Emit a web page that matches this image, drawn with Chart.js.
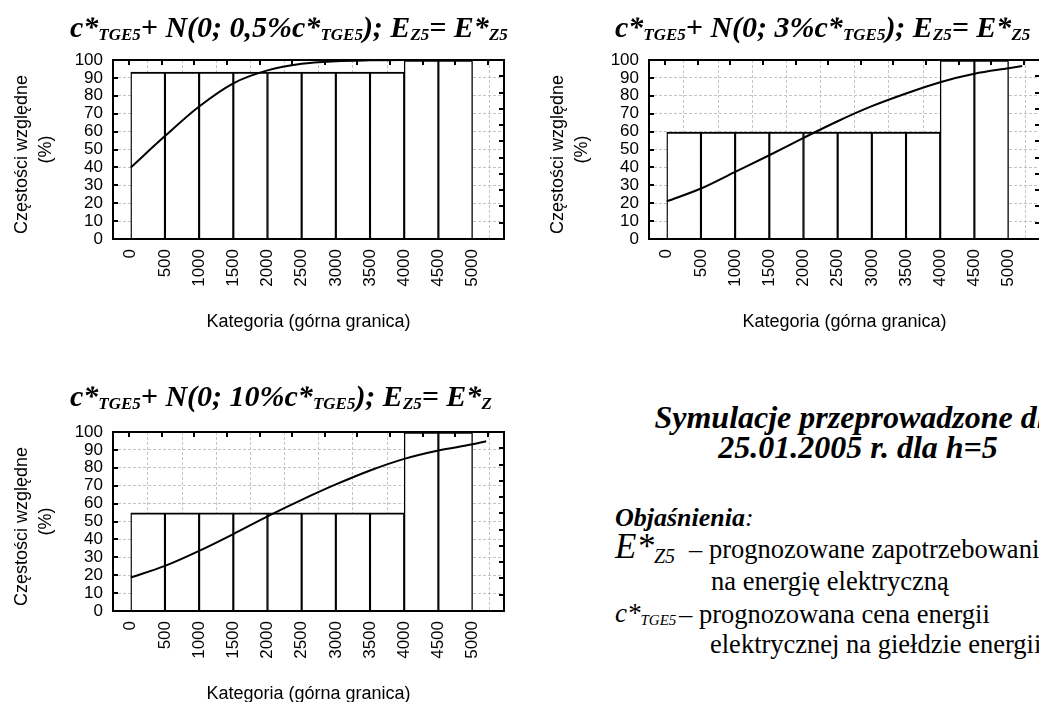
<!DOCTYPE html>
<html>
<head>
<meta charset="utf-8">
<script src="https://cdn.jsdelivr.net/npm/chart.js@4.4.1/dist/chart.umd.min.js"></script>
<style>
  html, body { margin:0; padding:0; width:1039px; height:702px; overflow:hidden; background:#fff; }
  .cv { position:absolute; }
  .t { position:absolute; white-space:nowrap; line-height:1; font-family:"Liberation Serif","Times New Roman",serif; color:#000; }
  .bi { font-weight:bold; font-style:italic; }
  .it { font-style:italic; }
  .s { position:relative; }
  .ts { position:relative; font-size:17px; top:3px; }
</style>
</head>
<body>
<canvas id="c1" class="cv" width="520" height="345" style="left:0px;top:0px"></canvas>
<canvas id="c2" class="cv" width="520" height="345" style="left:536px;top:0px"></canvas>
<canvas id="c3" class="cv" width="520" height="345" style="left:0px;top:372px"></canvas>

<div class="t bi" style="left:70px;top:12px;font-size:30px">c*<span class="ts">TGE5</span>+ N(0; 0,5%c*<span class="ts">TGE5</span>); E<span class="ts">Z5</span>= E*<span class="ts">Z5</span></div>
<div class="t bi" style="left:615px;top:12px;font-size:30px">c*<span class="ts">TGE5</span>+ N(0; 3%c*<span class="ts">TGE5</span>); E<span class="ts">Z5</span>= E*<span class="ts">Z5</span></div>
<div class="t bi" style="left:70px;top:381px;font-size:30px">c*<span class="ts">TGE5</span>+ N(0; 10%c*<span class="ts">TGE5</span>); E<span class="ts">Z5</span>= E*<span class="ts">Z</span></div>

<div class="t bi" style="left:858px;top:401px;font-size:32px;transform:translateX(-50%)">Symulacje przeprowadzone dla</div>
<div class="t bi" style="left:858px;top:431px;font-size:32px;transform:translateX(-50%)">25.01.2005 r. dla h=5</div>

<div class="t bi" style="left:615px;top:505px;font-size:26px">Objaśnienia<span style="font-weight:normal">:</span></div>
<div class="t it" style="left:615px;top:529px;font-size:35px">E*<span class="s" style="font-size:20px;top:5px">Z5</span></div>
<div class="t" style="left:689px;top:536px;font-size:26.5px">– prognozowane zapotrzebowanie</div>
<div class="t" style="left:711px;top:568px;font-size:26.5px">na energię elektryczną</div>
<div class="t it" style="left:615px;top:600px;font-size:27px">c*<span class="s" style="font-size:15px;top:3px">TGE5</span></div>
<div class="t" style="left:679px;top:601px;font-size:26.5px">– prognozowana cena energii</div>
<div class="t" style="left:710px;top:631px;font-size:26.5px">elektrycznej na giełdzie energii</div>

<script>
// ---- data ----
const binCenters = [250, 750, 1250, 1750, 2250, 2750, 3250, 3750, 4250, 4750];
const xTickValues = [0, 500, 1000, 1500, 2000, 2500, 3000, 3500, 4000, 4500, 5000];
const xTickLabels = ['0', '500', '1000', '1500', '2000', '2500', '3000', '3500', '4000', '4500', '5000'];
const yTickValues = [0, 10, 20, 30, 40, 50, 60, 70, 80, 90, 100];
const yTickLabels = ['0', '10', '20', '30', '40', '50', '60', '70', '80', '90', '100'];
const curveX = [0, 500, 1000, 1500, 2000, 2500, 3000, 3500, 4000, 4500, 5000, 5200];

const hist1 = [93.3, 93.3, 93.3, 93.3, 93.3, 93.3, 93.3, 93.3, 100, 100];
const curve1 = [40, 57.5, 74, 87, 94.2, 97.9, 99.3, 99.8, 100, 100, 100, 100];

const hist2 = [59.8, 59.8, 59.8, 59.8, 59.8, 59.8, 59.8, 59.8, 100, 100];
const curve2 = [21, 28.2, 37.5, 46.8, 56.5, 65.8, 74.2, 81.3, 87.6, 92.3, 95.4, 96.6];

const hist3 = [54.8, 54.8, 54.8, 54.8, 54.8, 54.8, 54.8, 54.8, 100, 100];
const curve3 = [18.7, 25.2, 33.6, 43.0, 52.9, 62.1, 70.7, 78.5, 85.0, 89.7, 93.1, 94.8];

// frame tick marks (top: centres of 12 divisions, right: 11 divisions)
const frameTopTicks = [0.5, 1.5, 2.5, 3.5, 4.5, 5.5, 6.5, 7.5, 8.5, 9.5, 10.5, 11.5];
const frameRightTicks = [1, 2, 3, 4, 5, 6, 7, 8, 9, 10];

const yTitle = ['Częstości względne  ', '(%)'];
const xTitle = 'Kategoria (górna granica)';

const framePlugin = {
  id: 'frame',
  afterDatasetsDraw(chart) {
    const { ctx, chartArea: a, scales } = chart;
    ctx.save();
    ctx.strokeStyle = '#000';
    ctx.lineWidth = 2;
    ctx.beginPath();
    scales.y.ticks.forEach(t => {
      const py = Math.round(scales.y.getPixelForValue(t.value));
      ctx.moveTo(a.left, py); ctx.lineTo(a.left + 5, py);
    });
    frameTopTicks.forEach(v => {
      const px = Math.round(scales.xt.getPixelForValue(v));
      ctx.moveTo(px, a.top); ctx.lineTo(px, a.top + 5);
    });
    frameRightTicks.forEach(v => {
      const py = Math.round(scales.yr.getPixelForValue(v));
      ctx.moveTo(a.right, py); ctx.lineTo(a.right - 5, py);
    });
    ctx.stroke();
    ctx.lineWidth = 2;
    ctx.strokeRect(a.left, a.top, a.right - a.left, a.bottom - a.top);
    ctx.restore();
  }
};

const tickFont = { family: '"Liberation Sans", Arial, sans-serif', size: 17 };
const titleFont = { family: '"Liberation Sans", Arial, sans-serif', size: 18, lineHeight: 1.28 };

function makeChart(id, hist, curve) {
  return new Chart(document.getElementById(id), {
    data: {
      datasets: [
        {
          type: 'line',
          data: curveX.map((x, i) => ({ x: x, y: curve[i] })),
          borderColor: '#000',
          borderWidth: 2,
          pointRadius: 0,
          cubicInterpolationMode: 'monotone',
          order: 0
        },
        {
          type: 'bar',
          data: binCenters.map((x, i) => ({ x: x, y: hist[i] })),
          backgroundColor: '#fff',
          borderColor: '#000',
          borderWidth: { top: 2, left: 1.4, right: 1.4, bottom: 0 },
          borderSkipped: false,
          barPercentage: 1,
          categoryPercentage: 1,
          grouped: false,
          order: 1
        }
      ]
    },
    options: {
      responsive: false,
      animation: false,
      events: [],
      layout: { padding: { top: 60, right: 16, bottom: 0, left: 0 } },
      plugins: { legend: { display: false }, tooltip: { enabled: false }, title: { display: false } },
      scales: {
        x: {
          type: 'linear',
          min: 0, max: 5200,
          afterBuildTicks: s => { s.ticks = xTickValues.map(v => ({ value: v })); },
          afterFit: s => { s.height = 106; },
          ticks: {
            font: tickFont, color: '#000', minRotation: 90, maxRotation: 90, padding: 10, autoSkip: false,
            callback: (v) => xTickLabels[xTickValues.indexOf(v)]
          },
          grid: { color: '#c4c4c4', lineWidth: 1, drawTicks: false },
          border: { display: false, dash: [3, 2] },
          title: { display: true, text: xTitle, font: titleFont, color: '#000', padding: { top: 0, bottom: 11 } }
        },
        y: {
          type: 'linear',
          min: 0, max: 100,
          afterBuildTicks: s => { s.ticks = yTickValues.map(v => ({ value: v })); },
          afterFit: s => { s.width = 113; },
          ticks: {
            font: tickFont, color: '#000', padding: 10, autoSkip: false,
            callback: (v) => yTickLabels[yTickValues.indexOf(v)]
          },
          grid: { color: '#c4c4c4', lineWidth: 1, drawTicks: false },
          border: { display: false, dash: [3, 2] },
          title: { display: true, text: yTitle, font: titleFont, color: '#000', padding: { top: 11, bottom: 0 } }
        },
        xt: { type: 'linear', axis: 'x', position: 'top', display: false, min: 0, max: 12 },
        yr: { type: 'linear', axis: 'y', position: 'right', display: false, min: 0, max: 11 }
      }
    },
    plugins: [framePlugin]
  });
}

makeChart('c1', hist1, curve1);
makeChart('c2', hist2, curve2);
makeChart('c3', hist3, curve3);
</script>
</body>
</html>
